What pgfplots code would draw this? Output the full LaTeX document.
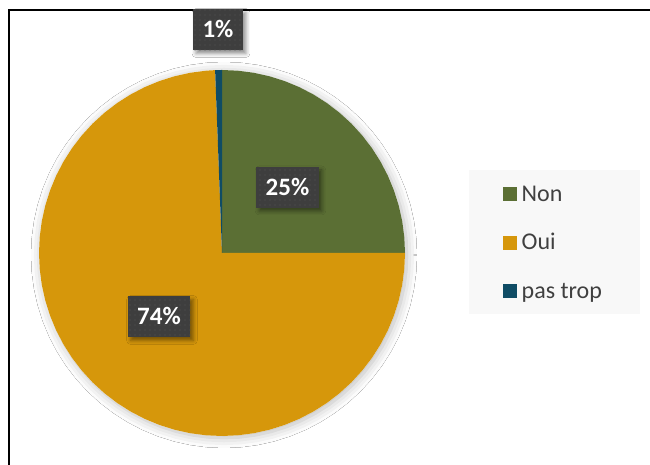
\documentclass[border=0pt]{standalone}
\usepackage{fontspec}
\setmainfont{Carlito}
\usepackage{pgfplots}
\pgfplotsset{compat=1.18}
\usetikzlibrary{shadows.blur,patterns.meta}

\definecolor{non}{HTML}{5B6F34}
\definecolor{oui}{HTML}{D6970B}
\definecolor{trop}{HTML}{0F4C65}
\definecolor{lblgray}{HTML}{3E3E3E}
\definecolor{dotgray}{HTML}{555555}
\definecolor{legbg}{HTML}{F8F8F8}

\tikzset{pct/.style={fill=lblgray, text=white,
    font=\fontsize{25}{30}\selectfont\bfseries,
    inner xsep=9.5pt, inner ysep=12.5pt, text height=16pt, text depth=0pt,
    blur shadow={shadow xshift=3pt, shadow yshift=-3pt, shadow blur radius=4pt, shadow opacity=45},
    postaction={pattern={Dots[radius=0.7pt,distance=5pt]}, pattern color=dotgray}}}

\begin{document}
\begin{tikzpicture}[x=1pt,y=1pt]
\useasboundingbox (0,0) rectangle (650,465);
\fill[white] (0,0) rectangle (650,465);
% chart frame (only top and left edges visible)
\draw[line width=2pt] (9,0) -- (9,455) -- (650,455);
% legend background
\fill[legbg] (469,151) rectangle (640,295);

% shares: Non 25 %, Oui 74.4 %, pas trop 0.6 % -> angles 90, 267.84, 2.16 deg
\begin{axis}[
    at={(39pt,29pt)}, anchor=south west,
    scale only axis, width=366pt, height=366pt,
    xmin=-1, xmax=1, ymin=-1, ymax=1,
    enlargelimits=false, hide axis, clip=false,
    data cs=polar,
    legend image code/.code={\fill[#1] (0pt,-5.5pt) rectangle (14pt,8.5pt);},
    legend style={draw=none, fill=none, inner sep=0pt,
        at={(1.2678,0.6858)}, anchor=north west,
        font=\fontsize{24}{28}\selectfont, text=black!75,
        row sep=27.5pt, column sep=4.5pt,
        nodes={inner sep=0pt, text height=16pt, text depth=5pt}},
    legend cell align=left,
]
% soft shadow under the pie
\addplot[forget plot, draw=none, fill=white,
    blur shadow={shadow xshift=2pt, shadow yshift=-2pt, shadow blur radius=10pt, shadow opacity=28}]
    coordinates {(0,1) (5,1) (10,1) (15,1) (20,1) (25,1) (30,1) (35,1) (40,1) (45,1)
    (50,1) (55,1) (60,1) (65,1) (70,1) (75,1) (80,1) (85,1) (90,1) (95,1) (100,1)
    (105,1) (110,1) (115,1) (120,1) (125,1) (130,1) (135,1) (140,1) (145,1) (150,1)
    (155,1) (160,1) (165,1) (170,1) (175,1) (180,1) (185,1) (190,1) (195,1) (200,1)
    (205,1) (210,1) (215,1) (220,1) (225,1) (230,1) (235,1) (240,1) (245,1) (250,1)
    (255,1) (260,1) (265,1) (270,1) (275,1) (280,1) (285,1) (290,1) (295,1) (300,1)
    (305,1) (310,1) (315,1) (320,1) (325,1) (330,1) (335,1) (340,1) (345,1) (350,1)
    (355,1) (360,1)};

\addplot[draw=none, fill=non] coordinates {(0,0) (90,1) (85,1) (80,1) (75,1) (70,1)
    (65,1) (60,1) (55,1) (50,1) (45,1) (40,1) (35,1) (30,1) (25,1) (20,1) (15,1)
    (10,1) (5,1) (0,1) (0,0)};
\addlegendentry{Non}

\addplot[draw=none, fill=oui] coordinates {(0,0) (0,1) (-5,1) (-10,1) (-15,1) (-20,1)
    (-25,1) (-30,1) (-35,1) (-40,1) (-45,1) (-50,1) (-55,1) (-60,1) (-65,1) (-70,1)
    (-75,1) (-80,1) (-85,1) (-90,1) (-95,1) (-100,1) (-105,1) (-110,1) (-115,1)
    (-120,1) (-125,1) (-130,1) (-135,1) (-140,1) (-145,1) (-150,1) (-155,1) (-160,1)
    (-165,1) (-170,1) (-175,1) (-180,1) (-185,1) (-190,1) (-195,1) (-200,1) (-205,1)
    (-210,1) (-215,1) (-220,1) (-225,1) (-230,1) (-235,1) (-240,1) (-245,1) (-250,1)
    (-255,1) (-260,1) (-265,1) (-267.84,1) (0,0)};
\addlegendentry{Oui}

\addplot[draw=none, fill=trop] coordinates {(0,0) (92.16,1) (91,1) (90,1) (0,0)};
\addlegendentry{pas trop}
\end{axis}

% data labels
\node[pct] at (218,435) {1\%};
\node[pct] at (287.5,277.5) {25\%};
\node[pct] at (159,148) {74\%};
\end{tikzpicture}
\end{document}
